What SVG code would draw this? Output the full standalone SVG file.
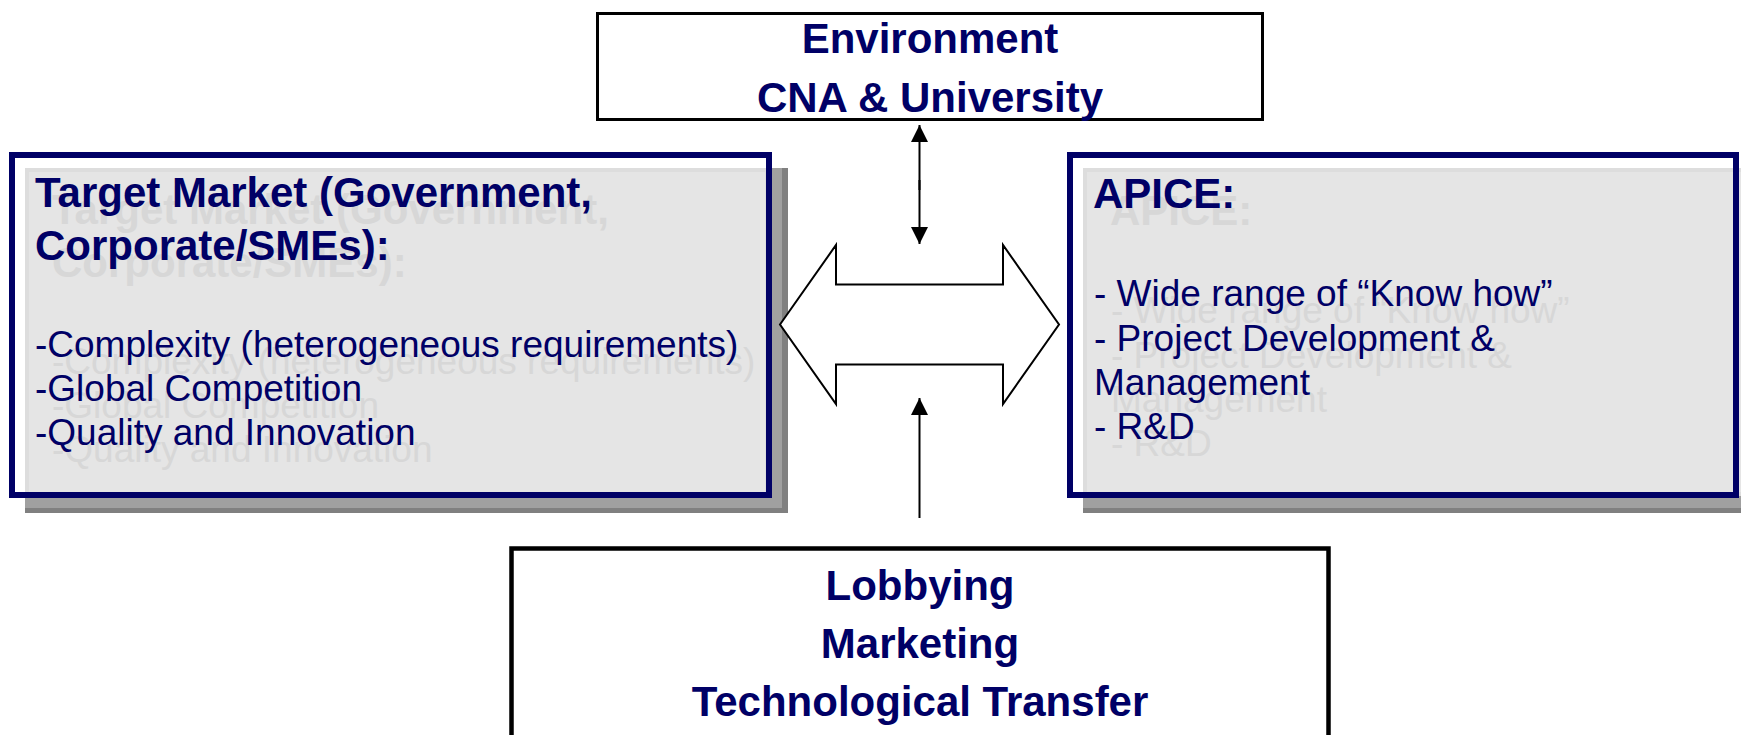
<svg xmlns="http://www.w3.org/2000/svg" width="1741" height="735" viewBox="0 0 1741 735">
<style>
.t{font-family:"Liberation Sans",Arial,sans-serif;fill:#000066}
.b{font-weight:bold;font-size:42px}
.r{font-size:37px}
.g{font-family:"Liberation Sans",Arial,sans-serif;fill:#d7d7d7}
.nav{fill:none;stroke:#000066;stroke-width:6}
.box{fill:#ffffff;stroke:#000000}
.sd{fill:#808080}
.sm{fill:#a0a0a0}
.sl{fill:#e5e5e5;stroke:#dddddd;stroke-width:4}
.ln{stroke:#000;stroke-width:2;fill:none}
</style>
<defs>
<marker id="ah" viewBox="0 0 10 10" refX="10" refY="5" markerWidth="17" markerHeight="17" markerUnits="userSpaceOnUse" orient="auto">
<path d="M0,0 L10,5 L0,10 Z" fill="#000"/>
</marker>
</defs>
<rect width="1741" height="735" fill="#fff"/>

<g id="environment">
<rect class="box" x="597.5" y="13.5" width="665" height="106" stroke-width="3"/>
<text class="t b" x="930" y="53" text-anchor="middle">Environment</text>
<text class="t b" x="930" y="112" text-anchor="middle">CNA &amp; University</text>
</g>

<g id="target-market">
<rect class="sd" x="25" y="168" width="763" height="345"/>
<rect class="sm" x="25" y="168" width="757" height="340"/>
<rect class="sl" x="27" y="170" width="740" height="324"/>
<g class="g">
<text class="b" x="52" y="224">Target Market (Government,</text>
<text class="b" x="52" y="277">Corporate/SMEs):</text>
<text class="r" x="52" y="374">-Complexity (heterogeneous requirements)</text>
<text class="r" x="52" y="418">-Global Competition</text>
<text class="r" x="52" y="462">-Quality and Innovation</text>
</g>
<rect class="nav" x="12" y="155" width="757" height="340"/>
<text class="t b" x="35" y="207">Target Market (Government,</text>
<text class="t b" x="35" y="260">Corporate/SMEs):</text>
<text class="t r" x="35" y="357">-Complexity (heterogeneous requirements)</text>
<text class="t r" x="35" y="401">-Global Competition</text>
<text class="t r" x="35" y="445">-Quality and Innovation</text>
</g>

<g id="apice">
<rect class="sd" x="1083" y="168" width="700" height="345"/>
<rect class="sm" x="1083" y="168" width="700" height="340"/>
<rect class="sl" x="1085" y="170" width="700" height="324"/>
<g class="g">
<text class="b" x="1110" y="225">APICE:</text>
<text class="r" x="1111" y="323">- Wide range of “Know how”</text>
<text class="r" x="1111" y="368">- Project Development &amp;</text>
<text class="r" x="1111" y="412">Management</text>
<text class="r" x="1111" y="456">- R&amp;D</text>
</g>
<rect class="nav" x="1070" y="155" width="666" height="340"/>
<text class="t b" x="1093" y="208">APICE:</text>
<text class="t r" x="1094" y="306">- Wide range of “Know how”</text>
<text class="t r" x="1094" y="351">- Project Development &amp;</text>
<text class="t r" x="1094" y="395">Management</text>
<text class="t r" x="1094" y="439">- R&amp;D</text>
</g>

<g id="activities">
<rect class="box" x="511.5" y="548.5" width="817" height="220" stroke-width="4.5"/>
<text class="t b" x="920" y="600" text-anchor="middle">Lobbying</text>
<text class="t b" x="920" y="658" text-anchor="middle">Marketing</text>
<text class="t b" x="920" y="716" text-anchor="middle">Technological Transfer</text>
</g>

<g id="connectors">
<path id="double-arrow" d="M780,324.5 L836,245 L836,284.5 L1003,284.5 L1003,245 L1059,324.5 L1003,404 L1003,364.5 L836,364.5 L836,404 Z" fill="#fff" stroke="#000" stroke-width="2" stroke-linejoin="miter"/>
<line class="ln" x1="919.5" y1="190" x2="919.5" y2="125" marker-end="url(#ah)"/>
<line class="ln" x1="919.5" y1="180" x2="919.5" y2="244" marker-end="url(#ah)"/>
<line class="ln" x1="919.5" y1="518" x2="919.5" y2="398" marker-end="url(#ah)"/>
</g>
</svg>
